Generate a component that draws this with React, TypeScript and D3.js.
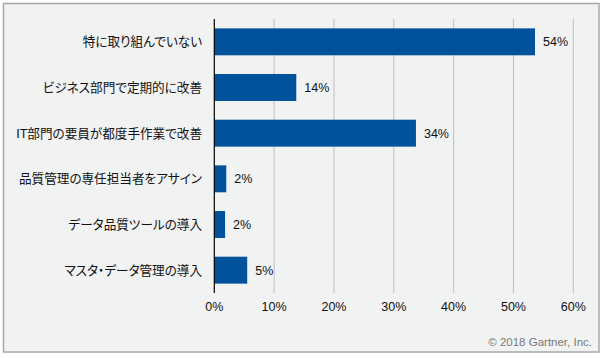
import React from "react";
import * as d3 from "d3";

const categories = [
  "特に取り組んでいない",
  "ビジネス部門で定期的に改善",
  "IT部門の要員が都度手作業で改善",
  "品質管理の専任担当者をアサイン",
  "データ品質ツールの導入",
  "マスタ・データ管理の導入",
];
const values = [53.6, 13.7, 33.7, 2.0, 1.8, 5.5];
const valueLabels = ["54%", "14%", "34%", "2%", "2%", "5%"];
const xTicks = [0, 10, 20, 30, 40, 50, 60];

const W = 602;
const H = 358;
const left = 214.3;
const right = 573.3;
const top = 19;
const bottom = 293;
const font = "'Liberation Sans', Arial, 'Noto Sans CJK JP', sans-serif";

export default function App() {
  const x = d3.scaleLinear().domain([0, 60]).range([left, right]);
  const y = d3
    .scaleBand<string>()
    .domain(categories)
    .range([top, bottom])
    .paddingInner(0.41)
    .paddingOuter(0.205);

  return (
    <svg
      width={W}
      height={H}
      style={{ position: "absolute", left: 0, top: 0 }}
      fontFamily={font}
    >
      <rect x={0} y={0} width={W} height={H} fill="#ffffff" />
      <rect
        x={3.5}
        y={3.5}
        width={595.5}
        height={348.5}
        fill="#f1f2f2"
        stroke="#a9a9a9"
        strokeWidth={1.5}
      />
      {xTicks.slice(1).map((t) => (
        <line
          key={t}
          x1={x(t)}
          x2={x(t)}
          y1={top}
          y2={bottom}
          stroke="#bfbfbf"
          strokeWidth={1}
        />
      ))}
      {categories.map((c, i) => (
        <g key={c}>
          <rect
            x={x(0)}
            y={y(c)!}
            width={x(values[i]) - x(0)}
            height={y.bandwidth()}
            fill="#00529b"
          />
          <text
            x={x(values[i]) + 8}
            y={y(c)! + y.bandwidth() / 2}
            dy="0.36em"
            fontSize={12.5}
            fill="#111"
          >
            {valueLabels[i]}
          </text>
          <text
            x={202}
            y={y(c)! + y.bandwidth() / 2}
            dy="0.36em"
            fontSize={12.6}
            textAnchor="end"
            fill="#111"
            style={{ fontFeatureSettings: "'palt'" }}
          >
            {c}
          </text>
        </g>
      ))}
      <line
        x1={x(0)}
        x2={x(0)}
        y1={top}
        y2={bottom}
        stroke="#000"
        strokeWidth={1.2}
      />
      {xTicks.map((t) => (
        <text
          key={t}
          x={x(t)}
          y={311}
          fontSize={12.5}
          textAnchor="middle"
          fill="#111"
        >
          {t + "%"}
        </text>
      ))}
      <text x={592} y={346} fontSize={11.5} textAnchor="end" fill="#7a7a7a">
        © 2018 Gartner, Inc.
      </text>
    </svg>
  );
}
